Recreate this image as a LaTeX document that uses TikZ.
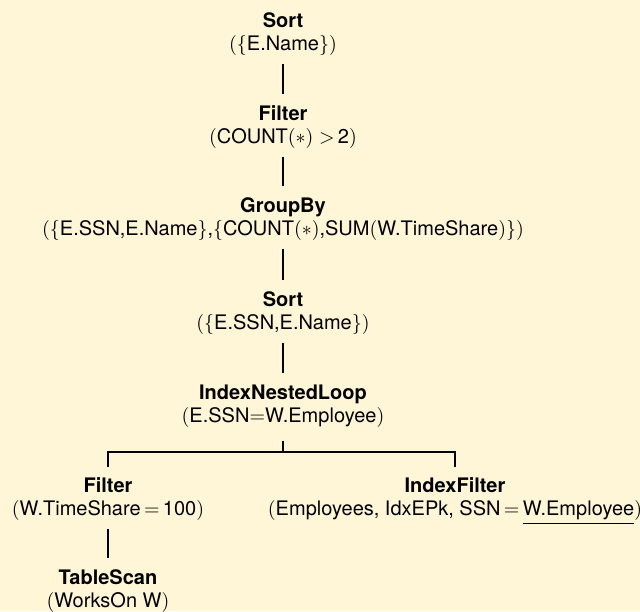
\documentclass[tikz,border=0pt]{standalone}
\usepackage{amsmath}
\usepackage{fontspec}
\setmainfont{TeX Gyre Heros}
\usepackage{tikz}
\usetikzlibrary{calc}
\definecolor{bgyellow}{RGB}{255,246,216}
\tikzset{
    plan/.style={align=center,anchor=north,inner sep=0pt,font=\fontsize{10}{11.5}\selectfont},
    link/.style={line width=0.8pt,shorten <=4pt,shorten >=5.75pt}
}

\begin{document}
\begin{tikzpicture}[x=0.5pt,y=-0.5pt]
            % 背景
            \fill[bgyellow] (0,0) rectangle (640,611);
            \useasboundingbox (0,0) rectangle (640,611);

            % 演算子のノード
            \node[plan] (sortA) at (283,12.5) {\textbf{Sort}\\$(\{$E.Name$\})$};
            \node[plan] (filterA) at (283,105.5) {\textbf{Filter}\\$($COUNT$(\ast)>$\,2$)$};
            \node[plan] (groupby) at (283,197.5) {\textbf{GroupBy}\\$(\{$E.SSN,E.Name$\}$,$\{$COUNT$(\ast)$,SUM$($W.TimeShare$)\})$};
            \node[plan] (sortB) at (283,291.5) {\textbf{Sort}\\$(\{$E.SSN,E.Name$\})$};
            \node[plan] (inl) at (283,384.5) {\textbf{IndexNestedLoop}\\$($E.SSN${=}$W.Employee$)$};
            \node[plan] (filterB) at (108,477.5) {\textbf{Filter}\\$($W.TimeShare${\,=\,}$100$)$};
            \node[plan] (ixfilter) at (455,477.5) {\textbf{IndexFilter}\\$($Employees, IdxEPk, SSN${\,=\,}$\underline{W.Employee}$)$};
            \node[plan] (scan) at (108,569) {\textbf{TableScan}\\$($WorksOn W$)$};

            % 枝を描く
            \draw[link] (sortA) -- (filterA);
            \draw[link] (filterA) -- (groupby);
            \draw[link] (groupby) -- (sortB);
            \draw[link] (sortB) -- (inl);
            \coordinate (fork) at (283,452);
            \draw[link,shorten <=6.5pt,shorten >=0pt] (inl) -- (fork);
            \draw[link,shorten <=5.25pt,shorten >=5.25pt] (filterB.north) |- (fork) -| (ixfilter.north);
            \draw[link] (filterB) -- (scan);
        \end{tikzpicture}
\end{document}
